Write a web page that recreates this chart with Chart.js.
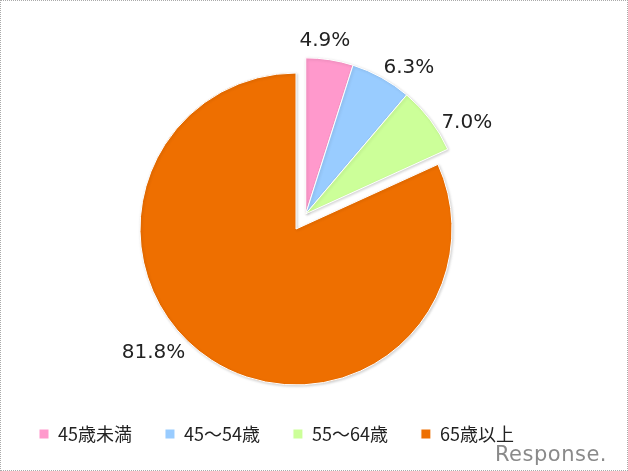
<!DOCTYPE html>
<html>
<head>
<meta charset="utf-8">
<script src="https://cdn.jsdelivr.net/npm/chart.js@4/dist/chart.umd.min.js"></script>
<style>
  html, body { margin: 0; padding: 0; background: #fff; }
  .frame {
    position: relative;
    width: 628px;
    height: 471px;
    box-sizing: border-box;
    border: 1px dotted #aaa;
  }
  canvas { position: absolute; left: 0; top: 0; }
  .logo {
    position: absolute;
    right: 20px;
    bottom: 4px;
    font-family: "DejaVu Sans", sans-serif;
    font-size: 21px;
    color: #8a8a8a;
    letter-spacing: 0.5px;
  }
</style>
</head>
<body>
<div class="frame">
  <canvas id="pie" width="628" height="471"></canvas>
  <div class="logo">Response.</div>
</div>
<script>
const categories = ['45歳未満', '45～54歳', '55～64歳', '65歳以上'];
const shares = [4.9, 6.3, 7.0, 81.8];
const colors = ['#FF99CC', '#99CCFF', '#CCFF99', '#EE6F00'];

// first three slices are pulled out together, as one group
const groupSize = 3;
const groupPull = 18;

// label placement: angle shift (degrees) and distance past the rim
const labelShift = [-2.5, 6.2, 7.6, 16.2];
const labelGap = [18, 23, 29, 33];

const groupExplode = {
  id: 'groupExplode',
  afterDatasetsUpdate(chart) {
    const arcs = chart.getDatasetMeta(0).data;
    const mid = (arcs[0].startAngle + arcs[groupSize - 1].endAngle) / 2;
    const dx = Math.cos(mid) * groupPull;
    const dy = Math.sin(mid) * groupPull;
    for (let i = 0; i < groupSize; i++) {
      arcs[i].x += dx;
      arcs[i].y += dy;
    }
  }
};

const pieShadow = {
  id: 'pieShadow',
  beforeDatasetsDraw(chart) {
    const ctx = chart.ctx;
    ctx.save();
    ctx.shadowColor = 'rgba(0,0,0,0.18)';
    ctx.shadowBlur = 3;
    ctx.shadowOffsetX = 1;
    ctx.shadowOffsetY = 1;
  },
  afterDatasetsDraw(chart) {
    chart.ctx.restore();
  }
};

const pctLabels = {
  id: 'pctLabels',
  afterDraw(chart) {
    const ctx = chart.ctx;
    const arcs = chart.getDatasetMeta(0).data;
    ctx.save();
    ctx.font = '20px "DejaVu Sans", sans-serif';
    ctx.fillStyle = '#222';
    ctx.textAlign = 'center';
    ctx.textBaseline = 'middle';
    arcs.forEach((arc, i) => {
      const a = (arc.startAngle + arc.endAngle) / 2 + labelShift[i] * Math.PI / 180;
      const r = arc.outerRadius + labelGap[i];
      ctx.fillText(shares[i].toFixed(1) + '%', arc.x + Math.cos(a) * r, arc.y + Math.sin(a) * r);
    });
    ctx.restore();
  }
};

new Chart(document.getElementById('pie'), {
  type: 'pie',
  data: {
    labels: categories,
    datasets: [{
      data: shares,
      backgroundColor: colors,
      borderColor: '#fff',
      borderWidth: 1
    }]
  },
  options: {
    responsive: false,
    animation: false,
    radius: 156,
    layout: { padding: { left: 5, right: 43, top: 65, bottom: 19 } },
    plugins: {
      tooltip: { enabled: false },
      legend: {
        position: 'bottom',
        align: 'start',
        labels: {
          boxWidth: 10,
          boxHeight: 10,
          padding: 33,
          color: '#222',
          font: { family: '"Noto Sans CJK JP", sans-serif', size: 18 }
        }
      }
    }
  },
  plugins: [groupExplode, pieShadow, pctLabels]
});
</script>
</body>
</html>
